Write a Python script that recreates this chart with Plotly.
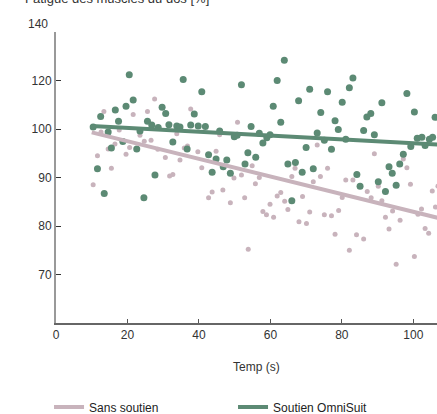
import plotly.graph_objects as go

# ---- data ----
sans_x = [27.6, 13.4, 21.6, 25.6, 37.7, 50.8, 12.6, 17.7, 23.5, 33.8, 45.8, 11.6, 14.6, 16.5, 20.6,
          19.6, 24.7, 26.6, 28.5, 30.6, 34.7, 35.9, 36.8, 39.7, 40.8, 44.8, 15.5, 10.4, 31.8, 32.7,
          42.7, 43.7, 46.7, 48.8, 49.8, 51.9, 52.8, 53.8, 73.1, 89.1, 97.2, 98.2, 54.9, 56.9, 55.8,
          66.9, 66.0, 74.0, 76.0, 72.0, 81.1, 83.1, 87.1, 90.2, 99.2, 105.3, 106.2, 61.9, 62.9, 64.0,
          69.0, 59.9, 80.1, 88.2, 91.2, 102.3, 64.9, 57.9, 58.9, 60.9, 71.0, 68.0, 70.1, 75.1, 77.1,
          79.1, 78.1, 84.1, 86.1, 82.1, 94.2, 92.2, 93.2, 96.3, 95.2, 100.3, 101.3, 103.3, 104.3, 106.9]
sans_y = [106.2, 103.6, 103.0, 103.6, 104.1, 101.4, 99.4, 99.8, 98.7, 99.0, 98.8, 94.5, 95.9, 96.9, 96.2,
          94.8, 97.5, 97.7, 95.8, 94.1, 93.6, 96.1, 96.5, 95.3, 92.0, 95.4, 91.9, 88.5, 90.3, 90.6,
          85.8, 87.0, 87.4, 84.8, 89.9, 90.5, 85.8, 75.2, 96.7, 94.9, 93.8, 92.0, 92.4, 90.0, 88.7,
          91.9, 90.2, 90.2, 91.9, 89.1, 89.5, 89.5, 87.1, 88.2, 88.6, 87.2, 83.9, 86.2, 86.9, 85.1,
          86.1, 84.5, 85.9, 85.8, 85.2, 83.5, 83.4, 83.0, 82.3, 81.8, 82.9, 80.9, 80.5, 82.3, 82.1,
          83.2, 78.3, 78.2, 77.3, 75.0, 83.1, 81.8, 79.4, 81.2, 72.1, 73.7, 82.4, 79.5, 78.5, 88.2]

omni_x = [20.5, 35.6, 40.8, 51.9, 21.6, 19.6, 16.6, 12.5, 17.5, 29.7, 30.7, 38.7, 25.6, 10.4, 14.6,
          23.5, 26.8, 28.6, 31.6, 33.8, 34.7, 37.7, 39.8, 41.8, 45.8, 49.9, 54.6, 18.7, 15.5, 22.6,
          32.7, 36.7, 42.7, 44.8, 47.8, 46.8, 43.7, 48.8, 52.9, 53.7, 11.6, 27.7, 13.5, 24.6, 63.9,
          61.9, 71.0, 76.0, 83.1, 82.1, 67.9, 80.1, 91.2, 98.2, 60.8, 74.1, 100.3, 106.1, 62.9, 78.1,
          87.0, 88.1, 79.0, 86.1, 89.1, 73.1, 50.7, 56.9, 59.0, 59.9, 57.9, 70.0, 75.1, 77.1, 81.1,
          99.3, 101.1, 102.4, 103.3, 104.5, 105.4, 97.2, 96.2, 93.2, 94.1, 95.2, 90.2, 92.2, 84.2, 85.1,
          55.9, 64.9, 67.0, 68.9, 72.0, 66.0]
omni_y = [111.2, 110.2, 107.7, 109.1, 106.0, 104.7, 103.9, 102.6, 101.6, 104.5, 103.2, 103.1, 101.6, 100.4, 99.4,
          99.6, 100.8, 100.3, 100.9, 100.6, 100.4, 100.8, 100.6, 100.5, 99.6, 98.4, 100.5, 97.4, 96.1, 95.9,
          97.3, 95.9, 94.7, 93.8, 93.6, 92.2, 91.1, 90.9, 92.8, 95.1, 91.8, 90.5, 86.7, 85.8, 114.2,
          110.0, 108.2, 107.7, 110.5, 108.5, 105.8, 105.5, 105.4, 107.3, 104.7, 103.4, 103.5, 102.4, 101.4, 101.7,
          102.5, 103.2, 99.9, 99.7, 98.8, 99.2, 98.7, 99.1, 98.2, 98.8, 97.1, 96.2, 97.7, 95.8, 97.9,
          96.4, 98.1, 98.3, 96.6, 97.9, 98.3, 94.8, 92.8, 92.2, 90.9, 88.4, 89.1, 87.1, 90.6, 88.2,
          94.2, 92.8, 93.1, 91.1, 91.8, 85.2]

trend_x = [10, 120]
sans_trend_y = [99.3, 79.3]
omni_trend_y = [100.6, 96.3]

x_ticks = [0, 20, 40, 60, 80, 100]
y_tickvals = [70, 80, 90, 100, 110, 120]
y_ticktext = ["70", "80", "90", "100", "120", ""]
top_label = "140"

PINK = "#c8b3bc"
GREEN = "#5c8a74"
FONT = "Liberation Sans, Arial, sans-serif"

fig = go.Figure()
fig.add_trace(go.Scatter(x=sans_x, y=sans_y, mode="markers", showlegend=False,
                         marker=dict(size=5, color=PINK), hoverinfo="skip"))
fig.add_trace(go.Scatter(x=omni_x, y=omni_y, mode="markers", showlegend=False,
                         marker=dict(size=7, color=GREEN), hoverinfo="skip"))
fig.add_trace(go.Scatter(x=trend_x, y=sans_trend_y, mode="lines", name="Sans soutien",
                         line=dict(color=PINK, width=4)))
fig.add_trace(go.Scatter(x=trend_x, y=omni_trend_y, mode="lines", name="Soutien OmniSuit",
                         line=dict(color=GREEN, width=4)))

fig.update_layout(
    width=437, height=414,
    margin=dict(l=56, r=0, t=32, b=91, autoexpand=False),
    paper_bgcolor="white", plot_bgcolor="white",
    font=dict(family=FONT, size=12, color="#333"),
    showlegend=True,
    legend=dict(orientation="h", x=-0.0183, xanchor="left", y=-0.289, yanchor="middle",
                entrywidth=139, entrywidthmode="pixels",
                font=dict(size=12, color="#222"), bgcolor="rgba(0,0,0,0)"),
    xaxis=dict(range=[0, 106.63], tickvals=x_ticks, ticks="inside", ticklen=4,
               tickcolor="#555", showline=True, linecolor="#666", linewidth=1.5,
               showgrid=False, zeroline=False, automargin=False),
    yaxis=dict(range=[60, 120], tickvals=y_tickvals, ticktext=y_ticktext,
               ticks="inside", ticklen=5, tickcolor="#333", showline=True,
               linecolor="#999", linewidth=2, showgrid=False, zeroline=False,
               automargin=False),
    annotations=[
        dict(text="Fatigue des muscles du dos [%]", xref="paper", yref="paper",
             x=-0.0874, y=1.1168, xanchor="left", yanchor="middle", showarrow=False,
             font=dict(size=13, color="#333")),
        dict(text=top_label, xref="paper", yref="paper", x=-0.0157, y=1.0275,
             xanchor="right", yanchor="middle", showarrow=False,
             font=dict(size=12, color="#333")),
        dict(text="Temp (s)", xref="paper", yref="paper", x=0.525, y=-0.150,
             xanchor="center", yanchor="middle", showarrow=False,
             font=dict(size=12, color="#333")),
    ],
)

fig.write_html(
    "out.html",
    config={"displayModeBar": False},
    post_script="document.body.style.margin='0';document.body.style.overflow='hidden';",
)
